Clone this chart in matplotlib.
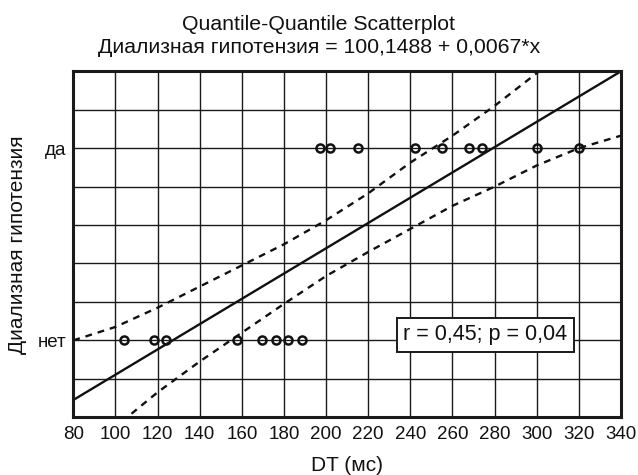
import numpy as np
import matplotlib
matplotlib.use("Agg")
import matplotlib.pyplot as plt

plt.rcParams['font.family'] = ['Liberation Sans', 'DejaVu Sans']

# data (нет = 0, да = 1 on the y scale)
no_x = [104, 118.5, 124, 157.5, 169.5, 176, 182, 188.5]
yes_x = [197, 202, 215, 242, 255, 268, 274, 300, 320]

# regression line end points
line_x = [80, 340]
line_y = [-0.31, 1.40]

# confidence band (dashed)
band_x = [80, 100, 120, 140, 160, 180, 200, 220, 240, 260, 280, 300, 320, 340]
band_upper = [0.0, 0.07, 0.17, 0.28, 0.39, 0.50, 0.625, 0.765, 0.925, 1.065, 1.22, 1.39, 1.57, 1.75]
band_lower = [-0.64, -0.45, -0.27, -0.11, 0.04, 0.19, 0.335, 0.46, 0.58, 0.70, 0.80, 0.91, 1.00, 1.065]

x_ticks = list(range(80, 341, 20))
y_grid = [-0.2, 0.0, 0.2, 0.4, 0.6, 0.8, 1.0, 1.2]
y_labels = ['', 'нет', '', '', '', '', 'да', '']

fig = plt.figure(figsize=(6.38, 4.75), dpi=100)
ax = fig.add_axes([0.1149, 0.1215, 0.8585, 0.7285])

ax.set_xlim(80, 340)
ax.set_ylim(-0.4, 1.4)
ax.set_xticks(x_ticks)
ax.set_yticks(y_grid)
ax.set_yticklabels(y_labels)
ax.tick_params(axis='both', length=0, labelsize=13.5, colors='#111111')
ax.tick_params(axis='x', pad=6.5)
ax.tick_params(axis='y', pad=5)
ax.grid(True, color='#1a1a1a', lw=1.0)
ax.set_axisbelow(True)
for sp in ax.spines.values():
    sp.set_linewidth(2.2)
    sp.set_color('#1a1a1a')

ax.plot(line_x, line_y, color='#111111', lw=1.7)
ax.plot(band_x, band_upper, color='#111111', lw=1.7, linestyle=(0, (2.9, 2.5)))
ax.plot(band_x, band_lower, color='#111111', lw=1.7, linestyle=(0, (2.9, 2.5)))

ax.plot(no_x, [0] * len(no_x), 'o', mfc='none', mec='#111111', ms=5.8, mew=1.8)
ax.plot(yes_x, [1] * len(yes_x), 'o', mfc='none', mec='#111111', ms=5.8, mew=1.8)

ax.text(275.5, 0.03, 'r = 0,45; p = 0,04', ha='center', va='center', fontsize=15.5,
        color='#111111',
        bbox=dict(boxstyle='square,pad=0.3', fc='white', ec='#1a1a1a', lw=1.4))

ax.set_xlabel('DT (мс)', fontsize=15, labelpad=9, color='#111111')
ax.set_ylabel('Диализная гипотензия', fontsize=15, labelpad=8, color='#111111')

fig.text(0.5, 1 - 30 / 475, 'Quantile-Quantile Scatterplot', ha='center', va='baseline',
         fontsize=15.3, color='#111111')
fig.text(0.5, 1 - 53 / 475, 'Диализная гипотензия = 100,1488 + 0,0067*x', ha='center',
         va='baseline', fontsize=15.3, color='#111111')

fig.savefig('out.png', dpi=100)
